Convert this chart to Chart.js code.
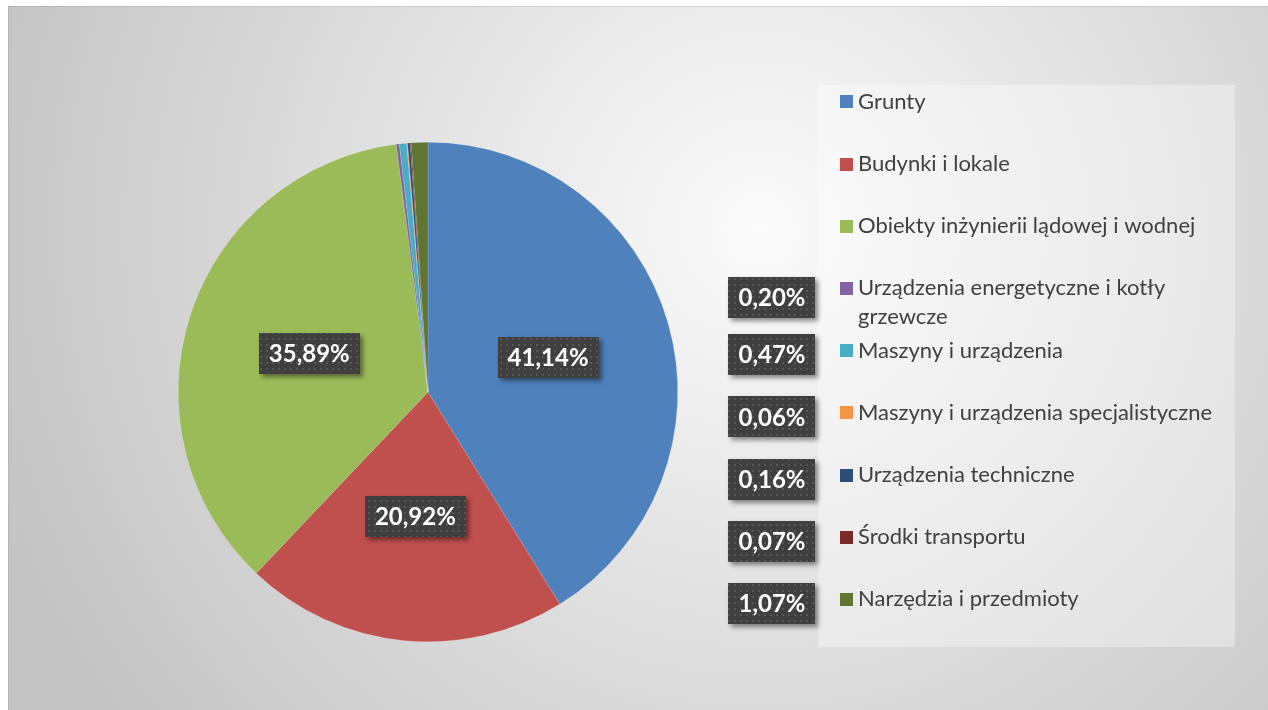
<!DOCTYPE html>
<html lang="pl">
<head>
<meta charset="utf-8">
<script src="https://cdn.jsdelivr.net/npm/chart.js@4.4.1/dist/chart.umd.min.js"></script>
<style>
    html, body { margin: 0; padding: 0; background: #fff; }
    canvas { display: block; }
</style>
</head>
<body>
<canvas id="chart" width="1268" height="710"></canvas>
<script>
// Struktura środków trwałych (udział %)
const categories = [
    'Grunty',
    'Budynki i lokale',
    'Obiekty inżynierii lądowej i wodnej',
    ['Urządzenia energetyczne i kotły', 'grzewcze'],
    'Maszyny i urządzenia',
    'Maszyny i urządzenia specjalistyczne',
    'Urządzenia techniczne',
    'Środki transportu',
    'Narzędzia i przedmioty'
];
const shares = [41.14, 20.92, 35.89, 0.20, 0.47, 0.06, 0.16, 0.07, 1.07];
const sliceColors = ['#4F81BD', '#C0504D', '#9BBB59', '#8064A2', '#4BACC6', '#F79646', '#2C4D75', '#772C2A', '#5F7530'];

const FONT = 'Lato, "Open Sans", sans-serif';

const fmt = v => v.toFixed(2).replace('.', ',') + '%';

let dots = null;
function dotPattern(ctx) {
    if (dots) return dots;
    const c = document.createElement('canvas');
    c.width = 6; c.height = 6;
    const p = c.getContext('2d');
    p.fillStyle = '#3f3f3f';
    p.fillRect(0, 0, 6, 6);
    p.fillStyle = '#565656';
    p.fillRect(2, 2, 2, 2);
    dots = ctx.createPattern(c, 'repeat');
    return dots;
}

function labelBox(ctx, text, cx, cy, size, pad) {
    ctx.save();
    ctx.font = `bold ${size}px ${FONT}`;
    const w = ctx.measureText(text).width + pad * 2;
    const h = 41;
    ctx.shadowColor = 'rgba(0,0,0,0.45)';
    ctx.shadowBlur = 5;
    ctx.shadowOffsetX = 3;
    ctx.shadowOffsetY = 3;
    ctx.fillStyle = dotPattern(ctx);
    ctx.fillRect(Math.round(cx - w / 2), Math.round(cy - h / 2), Math.round(w), h);
    ctx.shadowColor = 'transparent';
    ctx.fillStyle = '#ffffff';
    ctx.textAlign = 'center';
    ctx.textBaseline = 'middle';
    ctx.fillText(text, cx, cy + 1);
    ctx.restore();
}

// gray backdrop + legend panel
const backdrop = {
    id: 'backdrop',
    beforeDraw(chart) {
        const ctx = chart.ctx;
        ctx.save();
        ctx.fillStyle = '#ffffff';
        ctx.fillRect(0, 0, chart.width, chart.height);
        const g = ctx.createRadialGradient(760, 230, 0, 760, 230, 820);
        g.addColorStop(0, '#fbfbfb');
        g.addColorStop(1, '#c3c3c3');
        ctx.fillStyle = g;
        ctx.fillRect(8, 6, chart.width - 8, chart.height - 6);
        ctx.fillStyle = 'rgba(0,0,0,0.08)';
        ctx.fillRect(8, 6, chart.width - 8, 1);
        ctx.fillRect(8, 6, 1, chart.height - 6);
        ctx.fillStyle = 'rgba(255,255,255,0.35)';
        ctx.fillRect(818, 85, 417, 562);
        ctx.restore();
    }
};

// legend on the right, small-share labels beside it, big-share labels on slices
const sideLegend = {
    id: 'sideLegend',
    afterDatasetsDraw(chart) {
        const ctx = chart.ctx;
        const meta = chart.getDatasetMeta(0);
        const data = chart.data.datasets[0].data;
        const colors = chart.data.datasets[0].backgroundColor;

        chart.data.labels.forEach((label, i) => {
            const lines = Array.isArray(label) ? label : [label];
            const y = 101.8 + 62.2 * i;
            ctx.save();
            ctx.fillStyle = colors[i];
            ctx.fillRect(840, Math.round(y - 6.5), 13, 13);
            ctx.fillStyle = '#404040';
            ctx.font = `22px ${FONT}`;
            ctx.textBaseline = 'middle';
            ctx.textAlign = 'left';
            lines.forEach((t, k) => ctx.fillText(t, 858, y + k * 29));
            ctx.restore();

            if (data[i] > 5) {
                const pos = meta.data[i].tooltipPosition();
                labelBox(ctx, fmt(data[i]), pos.x, pos.y, 24, 10);
            } else {
                labelBox(ctx, fmt(data[i]), 772, y + 4 + (lines.length - 1) * 5, 24, 10);
            }
        });
    }
};

new Chart(document.getElementById('chart'), {
    type: 'pie',
    data: {
        labels: categories,
        datasets: [{
            data: shares,
            backgroundColor: sliceColors,
            borderColor: 'rgba(255,255,255,0.25)',
            borderWidth: 0.5
        }]
    },
    options: {
        responsive: false,
        animation: false,
        layout: { padding: { left: 178, right: 590, top: 142, bottom: 68 } },
        plugins: {
            legend: { display: false },
            tooltip: { enabled: false }
        }
    },
    plugins: [backdrop, sideLegend]
});
</script>
</body>
</html>
